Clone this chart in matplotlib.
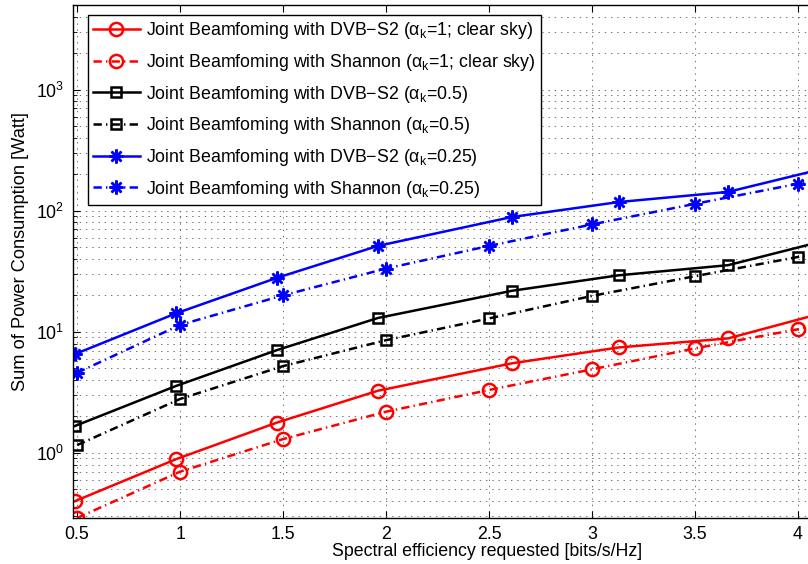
import matplotlib
matplotlib.use('Agg')
import matplotlib.pyplot as plt
from matplotlib import font_manager
from matplotlib.ticker import LogLocator, NullFormatter

# spectral efficiency points (DVB-S2 modcods vs. requested)
x_dvb = [0.49, 0.98, 1.47, 1.96, 2.61, 3.13, 3.66, 4.12]
x_shannon = [0.5, 1.0, 1.5, 2.0, 2.5, 3.0, 3.5, 4.0, 4.5]

# power consumption [Watt]
red_dvb = [0.40, 0.887, 1.78, 3.26, 5.49, 7.43, 8.82, 14.3]
red_sh = [0.29, 0.70, 1.30, 2.19, 3.31, 4.9, 7.3, 10.5, 18.0]
black_dvb = [1.67, 3.57, 7.06, 13.0, 21.8, 29.3, 35.5, 56.0]
black_sh = [1.16, 2.79, 5.21, 8.53, 12.9, 19.8, 28.8, 41.5, 66.0]
blue_dvb = [6.55, 14.2, 27.9, 51.2, 88.7, 118.0, 143.0, 222.0]
blue_sh = [4.59, 11.4, 20.0, 33.3, 51.2, 77.1, 114.0, 167.0, 270.0]

xticks = [0.5, 1, 1.5, 2, 2.5, 3, 3.5, 4]
xticklabels = ['0.5', '1', '1.5', '2', '2.5', '3', '3.5', '4']

labels = [
    r'Joint Beamfoming with DVB$-$S2 ($\alpha_k$=1; clear sky)',
    r'Joint Beamfoming with Shannon ($\alpha_k$=1; clear sky)',
    r'Joint Beamfoming with DVB$-$S2 ($\alpha_k$=0.5)',
    r'Joint Beamfoming with Shannon ($\alpha_k$=0.5)',
    r'Joint Beamfoming with DVB$-$S2 ($\alpha_k$=0.25)',
    r'Joint Beamfoming with Shannon ($\alpha_k$=0.25)',
]

# the reference text looks tall and narrow -> prefer a condensed face
installed = {f.name for f in font_manager.fontManager.ttflist}
if 'Liberation Sans Narrow' in installed:
    fam, scale = 'Liberation Sans Narrow', 1.0
elif 'DejaVu Sans Condensed' in installed:
    fam, scale = 'DejaVu Sans Condensed', 0.9
else:
    fam, scale = 'Liberation Sans', 0.82

plt.rcParams['font.family'] = [fam, 'DejaVu Sans']
plt.rcParams['mathtext.fontset'] = 'custom'
plt.rcParams['mathtext.rm'] = fam
plt.rcParams['mathtext.it'] = fam
plt.rcParams['mathtext.default'] = 'rm'
plt.rcParams['lines.scale_dashes'] = False

fs = 15.6 * scale

fig = plt.figure(figsize=(8.08, 5.64), dpi=100)
ax = fig.add_axes([73 / 808, 46 / 564, 828 / 808, 513 / 564])

dashdot = (0, (6, 3, 1, 3))
star = (8, 2, 0)
series = [
    (x_dvb, red_dvb, 'red', '-', 'o', 9.5),
    (x_shannon, red_sh, 'red', dashdot, 'o', 9.5),
    (x_dvb, black_dvb, 'black', '-', 's', 7),
    (x_shannon, black_sh, 'black', dashdot, 's', 7),
    (x_dvb, blue_dvb, 'blue', '-', star, 10),
    (x_shannon, blue_sh, 'blue', dashdot, star, 10),
]
for (xs, ys, c, ls, m, ms), lab in zip(series, labels):
    ax.plot(xs, ys, color=c, linestyle=ls, linewidth=1.8, marker=m,
            markersize=ms, markerfacecolor='none', markeredgecolor=c,
            markeredgewidth=1.8, label=lab)

ax.set_yscale('log')
ax.set_xlim(0.48, 4.5)
ax.set_ylim(0.29, 5000)
ax.set_xticks(xticks)
ax.set_xticklabels(xticklabels)
ax.yaxis.set_major_locator(LogLocator(base=10, numticks=10))
ax.yaxis.set_minor_locator(LogLocator(base=10, subs=range(2, 10), numticks=20))
ax.yaxis.set_minor_formatter(NullFormatter())

grid_style = dict(color='0.35', linestyle=(0, (1, 3.5)), linewidth=0.6)
ax.grid(True, which='major', axis='both', **grid_style)
ax.grid(True, which='minor', axis='y', **grid_style)
ax.tick_params(which='both', direction='in', top=True, right=True, labelsize=fs)
ax.tick_params(which='major', length=5)
ax.tick_params(which='minor', length=3)
ax.tick_params(axis='x', pad=6)
ax.tick_params(axis='y', pad=6)
for s in ax.spines.values():
    s.set_linewidth(1.0)

ax.set_xlabel('Spectral efficiency requested [bits/s/Hz]', fontsize=fs, labelpad=0)
ax.set_ylabel('Sum of Power Consumption [Watt]', fontsize=fs * 1.03)
ax.yaxis.set_label_coords(-0.053, 0.52)

leg = ax.legend(loc='upper left', bbox_to_anchor=(15 / 828, 1 - 10 / 513),
                fontsize=fs, fancybox=False, framealpha=1, edgecolor='black',
                handlelength=2.6, borderpad=0.3, labelspacing=0.6,
                handletextpad=0.35, borderaxespad=0)
leg.get_frame().set_linewidth(1.0)

plt.savefig('out.png', dpi=100)
